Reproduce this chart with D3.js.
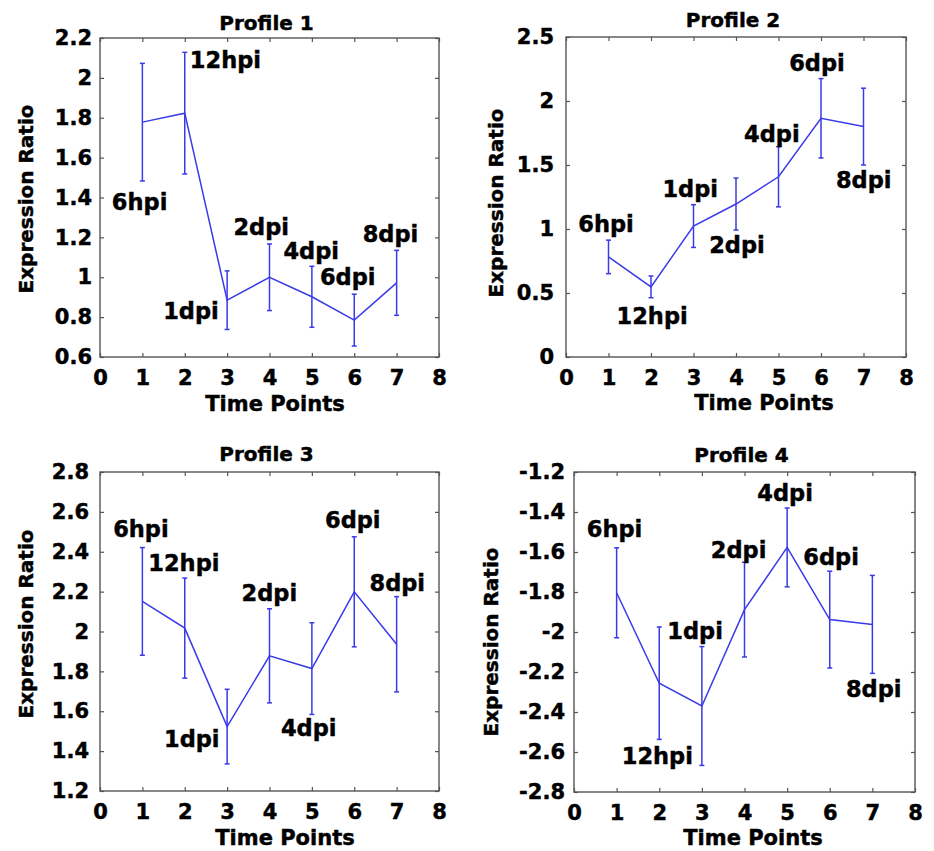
<!DOCTYPE html>
<html>
<head>
<meta charset="utf-8">
<script src="https://cdn.jsdelivr.net/npm/d3@7/dist/d3.min.js"></script>
<style>
  html, body { margin: 0; padding: 0; background: #fff; }
  svg text { font-family: "DejaVu Sans", Verdana, sans-serif; font-weight: bold; fill: #000; stroke: #000; stroke-width: 0.45px; }
</style>
</head>
<body>
<svg id="chart" width="934" height="851"></svg>
<script>
// ---------- data ----------
const timePoints = [1, 2, 3, 4, 5, 6, 7];
const pointLabels = ["6hpi", "12hpi", "1dpi", "2dpi", "4dpi", "6dpi", "8dpi"];
const xTicks = [0, 1, 2, 3, 4, 5, 6, 7, 8];

const profile1Mean = [1.778, 1.823, 0.885, 1.0, 0.902, 0.785, 0.972];
const profile1Err  = [0.295, 0.305, 0.147, 0.167, 0.153, 0.13, 0.163];
const profile1YTicks = [0.6, 0.8, 1, 1.2, 1.4, 1.6, 1.8, 2, 2.2];
const profile1LabelX = [0.28, 2.12, 1.49, 3.15, 4.33, 5.19, 6.2];
const profile1LabelY = [1.337, 2.05, 0.793, 1.212, 1.094, 0.96, 1.178];

const profile2Mean = [0.782, 0.548, 1.023, 1.195, 1.408, 1.865, 1.80];
const profile2Err  = [0.131, 0.085, 0.167, 0.203, 0.235, 0.31, 0.30];
const profile2YTicks = [0, 0.5, 1, 1.5, 2, 2.5];
const profile2LabelX = [0.29, 1.19, 2.27, 3.37, 4.19, 5.25, 6.35];
const profile2LabelY = [0.978, 0.256, 1.248, 0.809, 1.683, 2.231, 1.318];

const profile3Mean = [2.151, 2.017, 1.523, 1.878, 1.814, 2.199, 1.936];
const profile3Err  = [0.27, 0.251, 0.187, 0.236, 0.23, 0.276, 0.239];
const profile3YTicks = [1.2, 1.4, 1.6, 1.8, 2, 2.2, 2.4, 2.6, 2.8];
const profile3LabelX = [0.31, 1.14, 1.51, 3.34, 4.27, 5.31, 6.36];
const profile3LabelY = [2.474, 2.301, 1.423, 2.151, 1.476, 2.519, 2.201];

const profile4Mean = [-1.804, -2.256, -2.370, -1.888, -1.577, -1.938, -1.962];
const profile4Err  = [0.225, 0.281, 0.297, 0.237, 0.197, 0.242, 0.245];
const profile4YTicks = [-2.8, -2.6, -2.4, -2.2, -2, -1.8, -1.6, -1.4, -1.2];
const profile4LabelX = [0.30, 1.12, 2.19, 3.21, 4.30, 5.38, 6.38];
const profile4LabelY = [-1.523, -2.661, -2.033, -1.632, -1.347, -1.665, -2.326];

const titles = ["Profile 1", "Profile 2", "Profile 3", "Profile 4"];
const xLabelText = "Time Points";
const yLabelText = "Expression Ratio";

// ---------- layout ----------
const panels = [
  { title: titles[0], mean: profile1Mean, err: profile1Err, yTicks: profile1YTicks, lx: profile1LabelX, ly: profile1LabelY,
    left: 100, top: 38, w: 339, h: 319, titleY: 30, xlabX: 275, xlabY: 411, ylabX: 33, ylabY: 199, tickPad: 8 },
  { title: titles[1], mean: profile2Mean, err: profile2Err, yTicks: profile2YTicks, lx: profile2LabelX, ly: profile2LabelY,
    left: 566, top: 37, w: 340, h: 320, titleY: 27, xlabX: 764, xlabY: 410, ylabX: 503, ylabY: 203, tickPad: 12 },
  { title: titles[2], mean: profile3Mean, err: profile3Err, yTicks: profile3YTicks, lx: profile3LabelX, ly: profile3LabelY,
    left: 100, top: 472, w: 339, h: 319, titleY: 461, xlabX: 285, xlabY: 845, ylabX: 33, ylabY: 624, tickPad: 11 },
  { title: titles[3], mean: profile4Mean, err: profile4Err, yTicks: profile4YTicks, lx: profile4LabelX, ly: profile4LabelY,
    left: 574, top: 472, w: 341, h: 320, titleY: 462, xlabX: 753, xlabY: 845, ylabX: 498, ylabY: 642, tickPad: 9 }
];

const lineColor = "#3a3ae8";
const frameColor = "#555";
const svg = d3.select("#chart");
const fmt = v => { let s = d3.format(".1f")(Math.abs(v)); if (s.endsWith(".0")) s = s.slice(0, -2); return (v < 0 ? "-" : "") + s; };

panels.forEach(p => {
  const g = svg.append("g");
  const x = d3.scaleLinear().domain([0, 8]).range([p.left, p.left + p.w]);
  const yExt = d3.extent(p.yTicks);
  const y = d3.scaleLinear().domain(yExt).range([p.top + p.h, p.top]);

  // axes
  const axL = g.append("g").attr("transform", `translate(${p.left},0)`)
    .call(d3.axisLeft(y).tickValues(p.yTicks).tickSize(-4).tickPadding(p.tickPad).tickFormat(fmt));
  const axB = g.append("g").attr("transform", `translate(0,${p.top + p.h})`)
    .call(d3.axisBottom(x).tickValues(xTicks).tickSize(-4).tickPadding(13).tickFormat(d3.format("d")));
  const axT = g.append("g").attr("transform", `translate(0,${p.top})`)
    .call(d3.axisTop(x).tickValues(xTicks).tickSize(-4).tickFormat(""));
  const axR = g.append("g").attr("transform", `translate(${p.left + p.w},0)`)
    .call(d3.axisRight(y).tickValues(p.yTicks).tickSize(-4).tickFormat(""));
  [axL, axB, axT, axR].forEach(a => {
    a.select(".domain").remove();
    a.selectAll(".tick line").attr("stroke", frameColor).attr("stroke-width", 1.2);
    a.selectAll("text").style("font-size", "21px").attr("fill", "#000");
  });
  g.append("rect").attr("x", p.left).attr("y", p.top).attr("width", p.w).attr("height", p.h)
    .attr("fill", "none").attr("stroke", frameColor).attr("stroke-width", 1.4);

  const pts = timePoints.map((t, i) => ({ t, m: p.mean[i], e: p.err[i], lab: pointLabels[i], lx: p.lx[i], ly: p.ly[i] }));

  // line
  g.append("path").datum(pts)
    .attr("d", d3.line().x(d => x(d.t)).y(d => y(d.m)))
    .attr("fill", "none").attr("stroke", lineColor).attr("stroke-width", 1.5);

  // error bars
  const eb = g.selectAll(".eb").data(pts).join("g").attr("class", "eb")
    .attr("stroke", lineColor).attr("stroke-width", 1.5);
  eb.append("line").attr("x1", d => x(d.t)).attr("x2", d => x(d.t))
    .attr("y1", d => y(d.m - d.e)).attr("y2", d => y(d.m + d.e));
  eb.append("line").attr("x1", d => x(d.t) - 2.5).attr("x2", d => x(d.t) + 2.5)
    .attr("y1", d => y(d.m - d.e)).attr("y2", d => y(d.m - d.e));
  eb.append("line").attr("x1", d => x(d.t) - 2.5).attr("x2", d => x(d.t) + 2.5)
    .attr("y1", d => y(d.m + d.e)).attr("y2", d => y(d.m + d.e));

  // point labels
  g.selectAll(".pl").data(pts).join("text").attr("class", "pl")
    .attr("x", d => x(d.lx)).attr("y", d => y(d.ly))
    .style("font-size", "22.5px").text(d => d.lab);

  // titles
  g.append("text").attr("x", p.left + p.w / 2 - 3).attr("y", p.titleY)
    .attr("text-anchor", "middle").style("font-size", "20px").text(p.title);
  g.append("text").attr("x", p.xlabX).attr("y", p.xlabY)
    .attr("text-anchor", "middle").style("font-size", "21px").text(xLabelText);
  g.append("text").attr("transform", `translate(${p.ylabX},${p.ylabY}) rotate(-90)`)
    .attr("text-anchor", "middle").style("font-size", "20px").text(yLabelText);
});
</script>
</body>
</html>
